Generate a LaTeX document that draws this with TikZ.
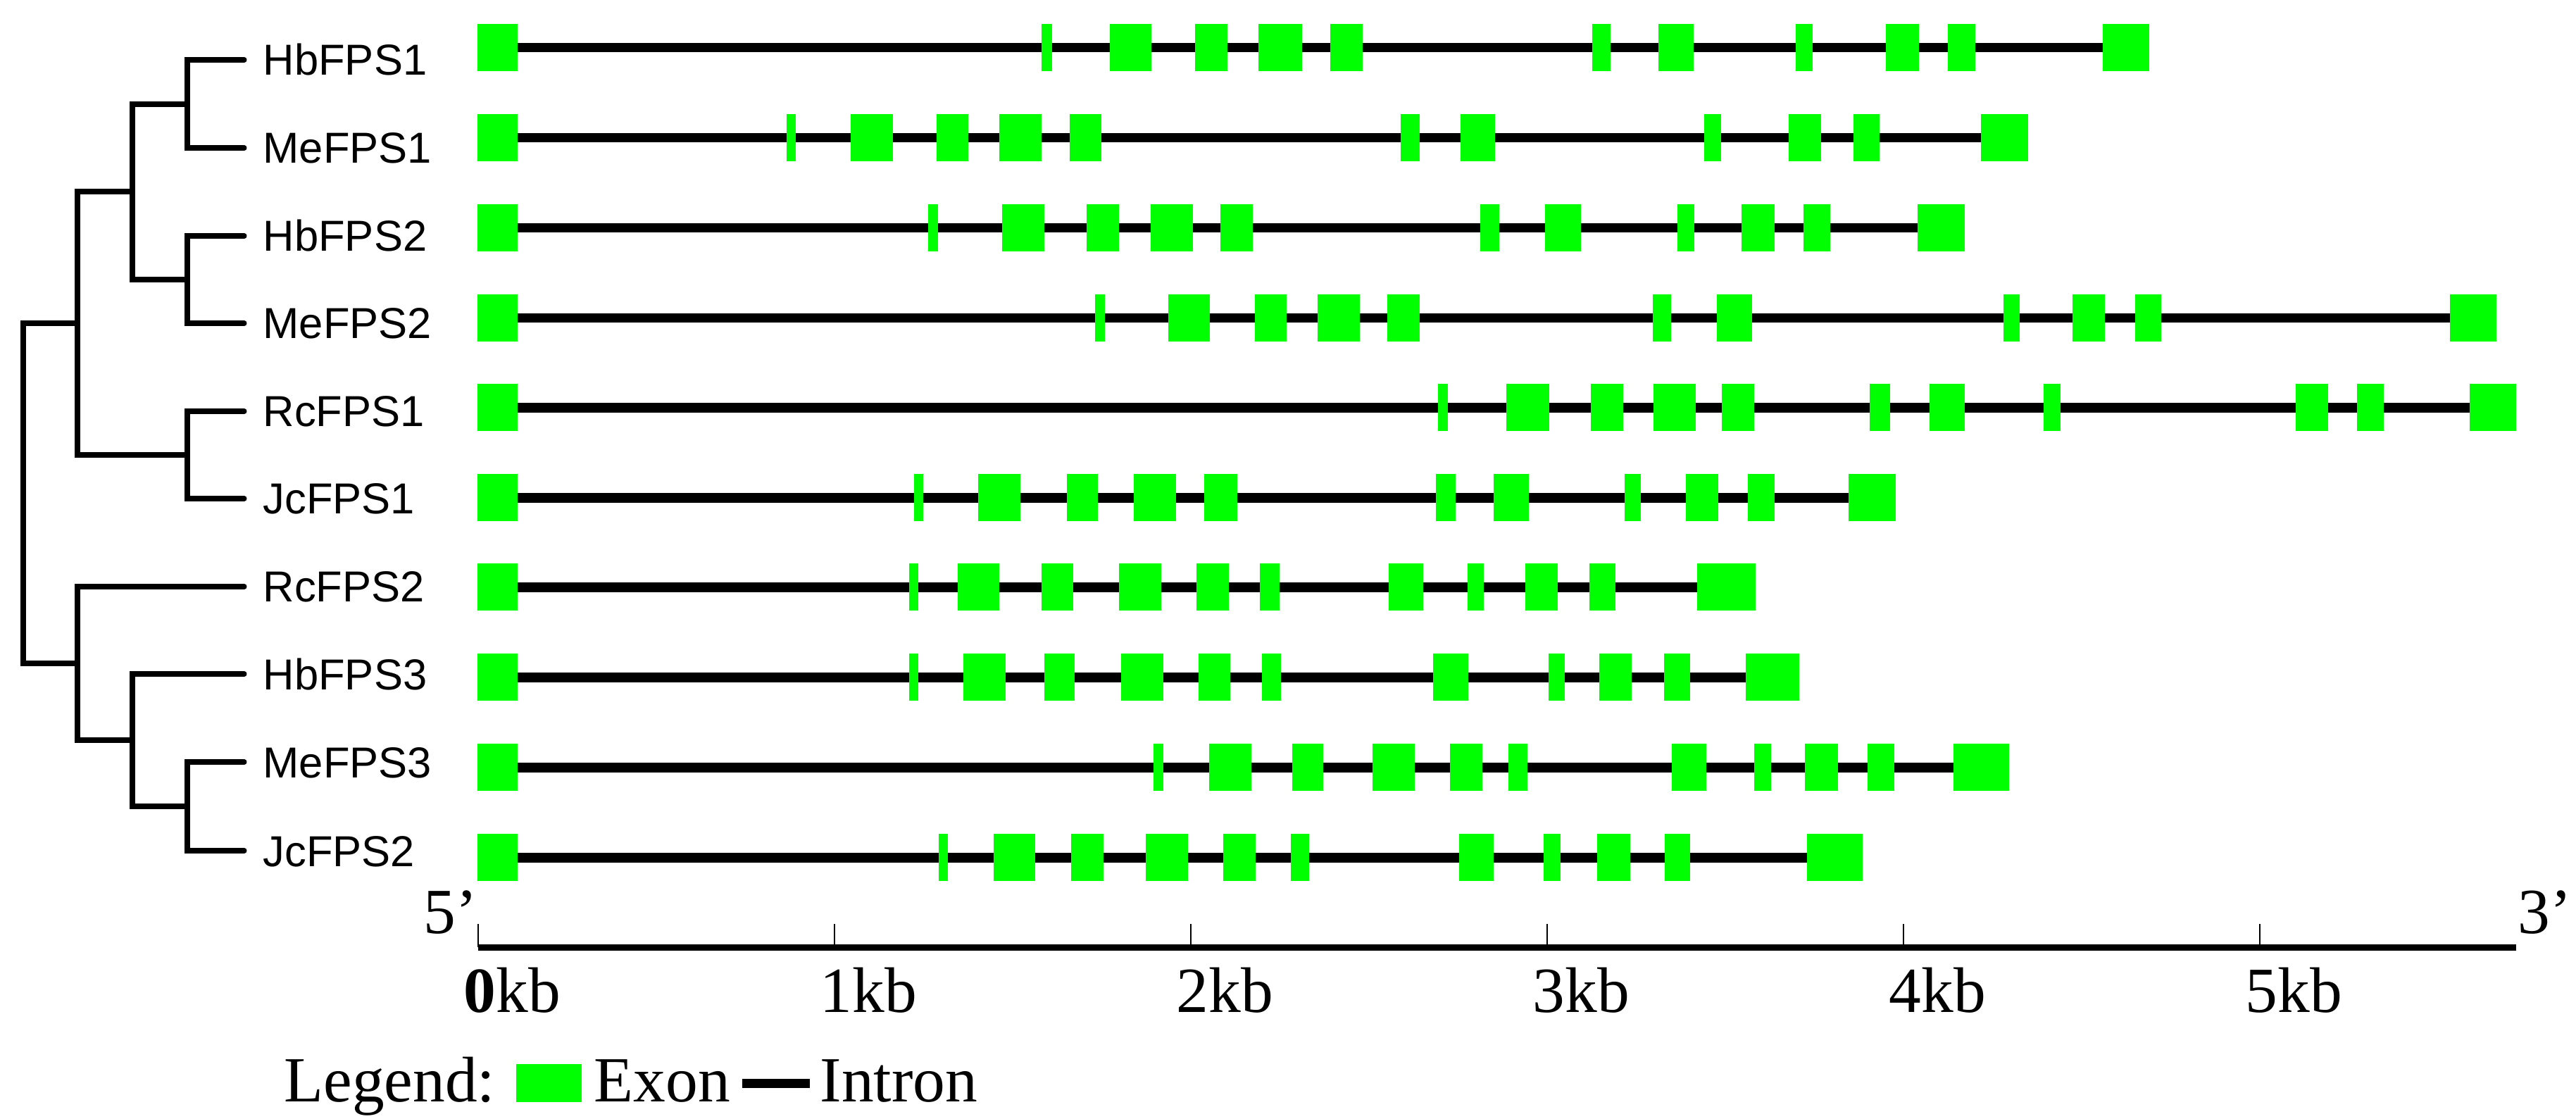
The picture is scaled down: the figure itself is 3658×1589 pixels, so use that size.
\documentclass[tikz,border=0pt]{standalone}
\usepackage{fontspec}
\setmainfont{Liberation Serif}
\setsansfont{Liberation Sans}
\definecolor{exongreen}{RGB}{0,255,0}
\newcommand{\generow}[3]{%
  \draw[intron] (678,#1) -- (#2,#1);
  \foreach \a/\b in {#3}{\fill[exon] (\a,#1-34) rectangle (\b,#1+33);}%
}
\begin{document}
\begin{tikzpicture}[x=0.01cm,y=-0.01cm,
  exon/.style={fill=exongreen},
  intron/.style={line width=3.7pt},
  branch/.style={line width=2pt,line cap=round},
  gname/.style={font=\sffamily\fontsize{17.5}{20}\selectfont,anchor=base west,inner sep=0pt},
  axlabel/.style={font=\fontsize{26}{30}\selectfont,anchor=base west,inner sep=0pt}]
\fill[white] (0,0) rectangle (3658,1589);
\useasboundingbox (0,0) rectangle (3658,1589);

% ---- tree ----
\coordinate (l1) at (347,85);
\coordinate (l2) at (347,210);
\coordinate (l3) at (347,335);
\coordinate (l4) at (347,459);
\coordinate (l5) at (347,584);
\coordinate (l6) at (347,708);
\coordinate (l7) at (347,833);
\coordinate (l8) at (347,957);
\coordinate (l9) at (347,1082);
\coordinate (l10) at (347,1208);
\coordinate (n12) at (266,148);
\coordinate (n34) at (266,397);
\coordinate (n1234) at (188,272);
\coordinate (n56) at (266,646);
\coordinate (nA) at (110,459);
\coordinate (n910) at (266,1145);
\coordinate (n8910) at (188,1051);
\coordinate (n7) at (110,942);
\coordinate (root) at (33,700);
\draw[branch] (n12) |- (l1);
\draw[branch] (n12) |- (l2);
\draw[branch] (n34) |- (l3);
\draw[branch] (n34) |- (l4);
\draw[branch] (n1234) |- (n12);
\draw[branch] (n1234) |- (n34);
\draw[branch] (n56) |- (l5);
\draw[branch] (n56) |- (l6);
\draw[branch] (nA) |- (n1234);
\draw[branch] (nA) |- (n56);
\draw[branch] (n910) |- (l9);
\draw[branch] (n910) |- (l10);
\draw[branch] (n8910) |- (l8);
\draw[branch] (n8910) |- (n910);
\draw[branch] (n7) |- (l7);
\draw[branch] (n7) |- (n8910);
\draw[branch] (root) |- (nA);
\draw[branch] (root) |- (n7);

% ---- gene names ----
\node[gname] (g1) at (373,107) {HbFPS1};
\node[gname] (g2) at (373,232) {MeFPS1};
\node[gname] (g3) at (373,357) {HbFPS2};
\node[gname] (g4) at (373,481) {MeFPS2};
\node[gname] (g5) at (373,606) {RcFPS1};
\node[gname] (g6) at (373,730) {JcFPS1};
\node[gname] (g7) at (373,855) {RcFPS2};
\node[gname] (g8) at (373,979) {HbFPS3};
\node[gname] (g9) at (373,1104) {MeFPS3};
\node[gname] (g10) at (373,1230) {JcFPS2};

% ---- gene structures ----
\generow{68}{3052}{678/735,1479/1494,1576/1635,1697/1743,1787/1849,1889/1935,2261/2287,2355/2405,2550/2574,2678/2725,2766/2805,2986/3052}
\generow{196}{2880}{678/735,1117/1130,1208/1268,1330/1375,1419/1479,1519/1564,1989/2016,2074/2123,2420/2444,2540/2586,2632/2669,2813/2880}
\generow{324}{2790}{678/735,1318/1332,1423/1483,1543/1589,1634/1694,1733/1779,2102/2129,2194/2245,2382/2406,2473/2520,2561/2599,2723/2790}
\generow{452}{3545}{678/735,1555/1569,1659/1718,1782/1827,1871/1931,1970/2016,2347/2373,2438/2488,2845/2868,2943/2989,3032/3069,3479/3545}
\generow{579}{3573}{678/735,2042/2056,2139/2200,2259/2305,2348/2408,2445/2491,2655/2684,2740/2790,2902/2926,3260/3306,3347/3385,3507/3573}
\generow{707}{2692}{678/735,1298/1311,1389/1449,1515/1559,1610/1670,1710/1757,2039/2067,2121/2171,2307/2330,2394/2440,2482/2520,2625/2692}
\generow{834}{2493}{678/735,1291/1304,1360/1419,1479/1524,1589/1649,1699/1745,1789/1817,1972/2021,2084/2107,2166/2212,2257/2294,2410/2493}
\generow{962}{2555}{678/735,1291/1304,1368/1428,1483/1526,1592/1652,1702/1747,1792/1819,2035/2085,2199/2222,2271/2317,2363/2400,2479/2555}
\generow{1090}{2853}{678/735,1638/1652,1717/1777,1835/1879,1949/2009,2059/2105,2142/2169,2374/2423,2491/2515,2563/2610,2652/2690,2774/2853}
\generow{1218}{2645}{678/735,1333/1346,1411/1470,1521/1567,1627/1687,1737/1783,1833/1859,2072/2121,2192/2216,2268/2315,2364/2400,2566/2645}

% ---- scale axis ----
\coordinate (ax0) at (679,1345);
\coordinate (ax1) at (3573,1345);
\draw[line width=2.56pt] (ax0) -- (ax1);
\foreach \k in {0,...,5}{\draw[line width=0.6pt] (679+506*\k,1312) -- (679+506*\k,1345);}
\node[axlabel] (t0) at (658,1437) {\textbf{0}kb};
\foreach \k in {1,...,5}{\node[axlabel] (t\k) at (658+506*\k,1437) {\k kb};}
\node[axlabel] (five) at (601,1325) {5’};
\node[axlabel] (three) at (3575,1325) {3’};

% ---- legend ----
\node[axlabel] (leg) at (403,1564) {Legend:};
\fill[exon] (733,1511) rectangle (826,1565);
\node[axlabel] (legexon) at (843,1564) {Exon};
\draw[line width=3.7pt] (1054,1538.5) -- (1150,1538.5);
\node[axlabel] (legintron) at (1164,1564) {Intron};
\end{tikzpicture}
\end{document}
